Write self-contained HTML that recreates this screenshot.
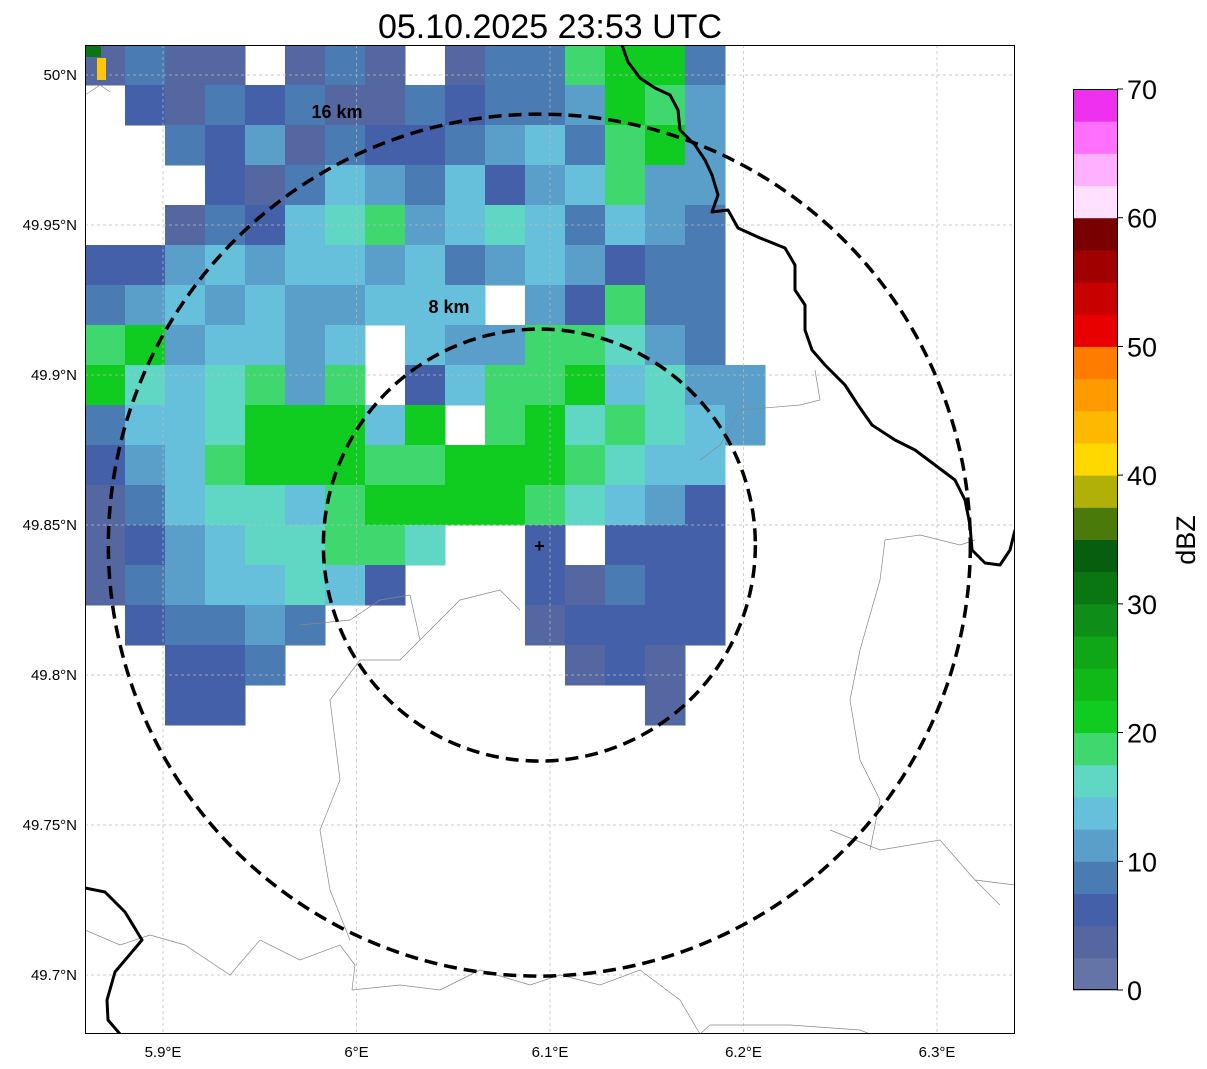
<!DOCTYPE html>
<html><head><meta charset="utf-8"><style>
html,body{margin:0;padding:0;background:#fff;}
svg{display:block;font-family:"Liberation Sans","DejaVu Sans",sans-serif;}
</style></head><body>
<svg id="chart" width="1207" height="1069" viewBox="0 0 1207 1069" xmlns="http://www.w3.org/2000/svg">
<text x="550" y="38" font-size="34" text-anchor="middle">05.10.2025 23:53 UTC</text>
<defs><clipPath id="mapclip"><rect x="85" y="45" width="930" height="989"/></clipPath></defs>
<g id="map" clip-path="url(#mapclip)"></g>
<rect x="85.5" y="45.5" width="929" height="988" fill="none" stroke="#000" stroke-width="1"/>
<g id="axes"></g>
<g id="cbar"></g>
<text x="1195" y="540" font-size="27" text-anchor="middle" transform="rotate(-90 1195 540)">dBZ</text>
</svg>
<script>
const NS="http://www.w3.org/2000/svg";
const levelColors=["#6574a6","#5467a0","#4460a8","#4a7bb2","#5a9fca","#66c0dc","#60d6c4","#3ed86e","#10cc20","#10b818","#0fa618","#0e8e18","#0a7612","#075e0e","#497a0a","#b0b008","#ffd800","#ffb800","#ff9a00","#ff7c00","#e80000","#c80000","#a00000","#780000","#ffe0ff","#ffb0ff","#ff70ff","#f030f0"];
const cbTicks=[0,10,20,30,40,50,60,70];
const lonTicks=[5.9,6.0,6.1,6.2,6.3];
const lonLabels=["5.9°E","6°E","6.1°E","6.2°E","6.3°E"];
const latTicks=[50.0,49.95,49.9,49.85,49.8,49.75,49.7];
const latLabels=["50°N","49.95°N","49.9°N","49.85°N","49.8°N","49.75°N","49.7°N"];
const radarGrid=[
"1311.131.1337883",
".213231132334874",
"..32413223453784",
"...2135435245744",
"..13256745653543",
"2245455453454233",
"3454544555.42733",
"7845545.54477643",
"8656747.257785644",
"355688858.7867654",
"2457888778887655",
"1356657888876542",
"124566776..2.222",
"13455652...21322",
".23343.....12222",
"..223.......121.",
"..22..........1."];
const rings=[{km:16,r:431,lx:337,ly:118},{km:8,r:216,lx:449,ly:313}];
const lon=v=>163+(v-5.9)*1935;
const lat=v=>75+(50-v)*3000;
const cx=lon(6.0945), cy=lat(49.8433);
const map=document.getElementById('map');
function mk(tag,attrs,parent){const e=document.createElementNS(NS,tag);for(const k in attrs)e.setAttribute(k,attrs[k]);parent.appendChild(e);return e;}
const gcells=mk('g',{},map);


const cell=40;
radarGrid.forEach((row,ri)=>{for(let ci=0;ci<24;ci++){const ch=row[ci];if(!ch||ch==='.')continue;const lvl=+ch;
const r=mk('rect',{x:85+ci*cell,y:45+ri*cell,width:cell+0.5,height:cell+0.5,fill:levelColors[lvl]},gcells);

}});
mk('rect',{x:85,y:45,width:16,height:12,fill:"#0a7612"},map);
mk('rect',{x:97,y:58,width:9,height:22,fill:"#ffc800"},map);
lonTicks.forEach(v=>{const l=mk('line',{x1:lon(v),x2:lon(v),y1:45,y2:1034,stroke:"#bbb","stroke-width":0.7,"stroke-dasharray":"3,3"},map);});
latTicks.forEach(v=>{const l=mk('line',{x1:85,x2:1015,y1:lat(v),y2:lat(v),stroke:"#bbb","stroke-width":0.7,"stroke-dasharray":"3,3"},map);});
const thin=["M85,95 L100,85 L110,92","M85,930 L120,945 L150,935 L185,945 L230,975 L260,940 L300,960 L340,945 L355,965 L352,990 L400,985 L440,990 L480,970 L530,985 L560,975 L600,985 L640,970 L680,1000 L700,1034",
"M700,1034 L710,1025 L790,1025 L860,1030 L870,1034","M830,830 L880,850 L940,840 L975,880 L1015,885","M975,880 L990,895 L1000,905",
"M300,625 L350,620 L380,600 L410,595 L420,640 L400,660 L360,660 L330,700 L340,780 L320,830 L330,890 L350,940",
"M420,640 L460,600 L500,590 L520,610","M700,460 L720,445 L740,410 L800,405 L820,400 L815,370",
"M885,540 L880,580 L860,650 L850,700 L860,760 L880,800 L870,850","M885,540 L920,535 L960,545 L975,540"];
thin.forEach(d=>{const p=mk('path',{d,fill:"none",stroke:"#888","stroke-width":0.7},map);});
const thick=["M622,45 L628,62 L640,78 L655,88 L670,95 L678,110 L680,130 L695,145 L705,160 L712,175 L718,195 L712,212 L728,210 L738,228 L760,238 L785,248 L795,265 L795,290 L805,305 L805,330 L812,350 L825,365 L845,385 L858,405 L872,425 L895,440 L915,450 L935,465 L955,480 L965,500 L970,525 L972,550 L985,563 L1000,565 L1010,550 L1015,530",
"M85,888 L105,892 L125,912 L142,940 L115,972 L107,1000 L108,1020 L120,1034"];
thick.forEach(d=>{const p=mk('path',{d,fill:"none",stroke:"#000","stroke-width":3,"stroke-linejoin":"round"},map);});
rings.forEach(rg=>{const c=mk('circle',{cx,cy,r:rg.r,fill:"none",stroke:"#000","stroke-width":3.5,"stroke-dasharray":"13,7"},map);
const t=mk('text',{x:rg.lx,y:rg.ly,"font-size":18,"font-weight":"bold","text-anchor":"middle"},map);t.textContent=rg.km+" km";});
const plus=mk('text',{x:cx,y:cy+7,"font-size":18,"font-weight":"bold","text-anchor":"middle"},map);plus.textContent="+";
const axes=document.getElementById('axes');
lonTicks.forEach((v,i)=>{const t=mk('text',{x:lon(v),y:1057,"font-size":15,"text-anchor":"middle"},axes);t.textContent=lonLabels[i];});
latTicks.forEach((v,i)=>{const t=mk('text',{x:77,y:lat(v)+5,"font-size":15,"text-anchor":"end"},axes);t.textContent=latLabels[i];});
const cb=document.getElementById('cbar');
const cbY=v=>990-(v/70)*901;
levelColors.forEach((c,i)=>{const r=mk('rect',{x:1073,y:cbY((i+1)*2.5),width:44,height:cbY(i*2.5)-cbY((i+1)*2.5)+0.5,fill:c},cb);});
mk('rect',{x:1073.5,y:89.5,width:44,height:900,fill:"none",stroke:"#000","stroke-width":1},cb);
cbTicks.forEach(v=>{mk('line',{x1:1117,x2:1123,y1:cbY(v),y2:cbY(v),stroke:"#000"},cb);const t=mk('text',{x:1127,y:cbY(v)+10,"font-size":27},cb);t.textContent=v;});
</script>
</body></html>
